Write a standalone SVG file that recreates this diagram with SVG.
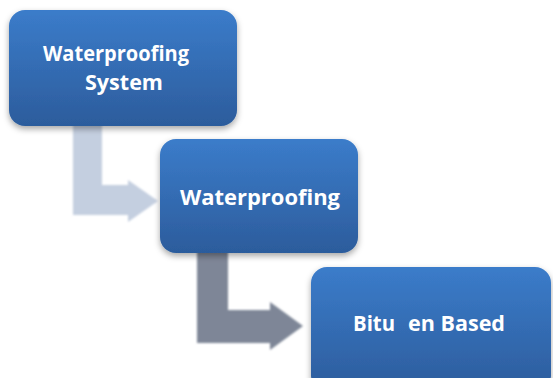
<svg xmlns="http://www.w3.org/2000/svg" width="553" height="378" viewBox="0 0 553 378">
<style>
.box{fill:url(#g);filter:url(#sh)}
.t{font-family:"Open Sans","Liberation Sans",sans-serif;font-weight:bold;fill:#fff}
</style>
<defs>
<linearGradient id="g" x1="0" y1="0" x2="0" y2="1">
<stop offset="0" stop-color="#3b7cca"/>
<stop offset="1" stop-color="#2c5c9c"/>
</linearGradient>
<filter id="sh" x="-10%" y="-10%" width="120%" height="130%">
<feDropShadow dx="0" dy="3" stdDeviation="3" flood-color="#000" flood-opacity="0.35"/>
</filter>
<filter id="bl" x="-10%" y="-10%" width="120%" height="120%">
<feGaussianBlur stdDeviation="1.2"/>
</filter>
</defs>
<g id="connectors">
<path d="M73,124 L102,124 L102,185 L128,185 L128,180 L158,201 L128,222 L128,215 L73,215 Z" fill="#c4cfe0" filter="url(#bl)"/>
<path d="M197,250 L228,250 L228,310 L270,310 L270,302 L303,326 L270,350 L270,343 L197,343 Z" fill="#7e8697" filter="url(#bl)"/>
</g>
<g id="node1">
<rect class="box" x="9" y="10" width="228" height="116" rx="16"/>
<text class="t" x="43" y="61" font-size="21" textLength="146" lengthAdjust="spacingAndGlyphs">Waterproofing</text>
<text class="t" x="85" y="90" font-size="21" textLength="78" lengthAdjust="spacingAndGlyphs">System</text>
</g>
<g id="node2">
<rect class="box" x="160" y="139" width="198" height="114" rx="16"/>
<text class="t" x="180" y="205" font-size="22" textLength="160" lengthAdjust="spacingAndGlyphs">Waterproofing</text>
</g>
<g id="node3">
<rect class="box" x="311" y="267" width="240" height="125" rx="16"/>
<text class="t" font-size="22" y="331"><tspan x="353" textLength="42" lengthAdjust="spacingAndGlyphs">Bitu</tspan><tspan x="408" textLength="97" lengthAdjust="spacingAndGlyphs">en Based</tspan></text>
</g>
</svg>
